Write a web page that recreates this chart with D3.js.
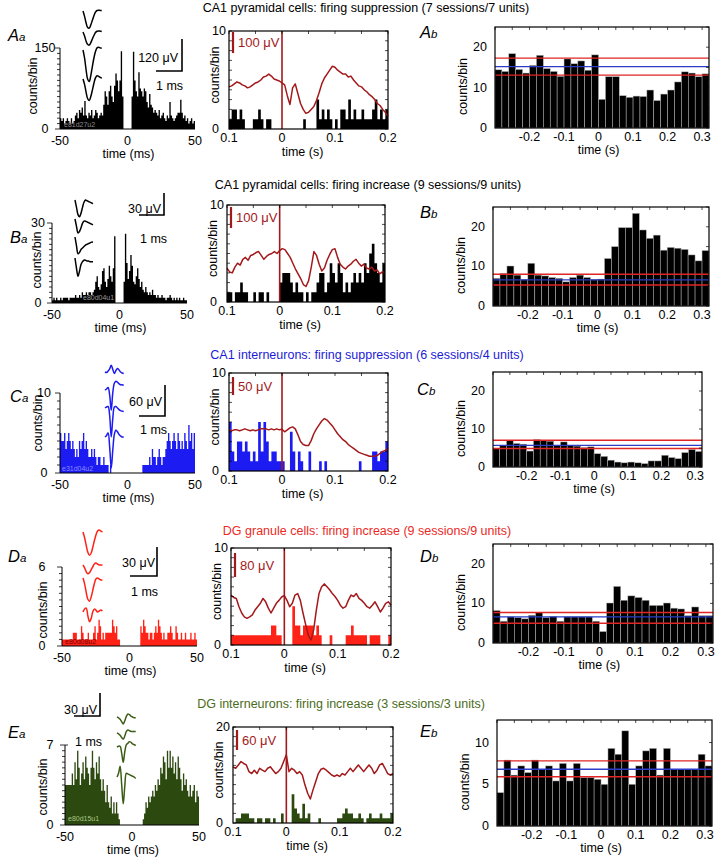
<!DOCTYPE html>
<html><head><meta charset="utf-8">
<script src="https://cdn.jsdelivr.net/npm/d3@7"></script>
<style>
body{margin:0;background:#fff}
svg{display:block}
text{font-family:"Liberation Sans",Arial,Helvetica,sans-serif}
</style>
</head><body>
<svg id="fig" width="720" height="857"></svg>
<script>
// ---------------- DATA ----------------
// Left panels: cross-correlograms, 1 ms bins from -50 to 50 ms (counts/bin)
const ccgA = [20,15,20,10,15,20,15,10,20,10, 15,25,30,20,35,30,40,25,52,25, 20,30,25,35,20,25,35,30,20,25, 30,25,45,70,60,45,70,80,60,50, 80,103,90,70,90,144,60,0,0,0, 0,0,0,60,143,90,70,60,105,75, 70,60,75,70,50,40,65,45,40,30, 35,30,25,35,20,25,30,20,15,25, 20,50,25,20,15,20,25,30,30,54, 30,20,25,15,20,10,15,20,10,15];
const ccgB = [1,2,1,2,1,1,2,1,2,2, 2,2,1,2,2,2,2,3,2,2, 3,2,4,3,3,4,3,4,4,3, 4,5,8,10,6,5,7,12,13,8, 6,9,14,10,8,13,25,0,0,0, 0,0,0,8,26,15,9,12,18,14, 8,7,10,13,9,6,8,5,4,6, 4,3,4,3,5,3,3,2,3,2, 2,3,2,2,1,2,2,3,2,1, 2,1,2,1,2,1,1,2,1,1];
const ccgC = [5,4,4,5,3,4,5,4,3,4, 3,2,3,2,4,3,4,5,3,4, 3,2,2,3,2,3,2,1,2,2, 1,1,2,1,1,1,0,1,0,0, 0,0,0,0,0,0,0,0,0,0, 0,0,0,0,0,0,0,0,0,0, 0,1,1,1,1,1,2,1,3,2, 2,1,2,3,2,1,2,2,3,4, 5,4,3,4,5,4,3,5,4,3, 4,3,5,4,3,6,4,5,3,5];
const ccgD = [.5,.5,.5,.5,.5,.5,.5,.5,1,1, 1,.5,.5,.5,1.5,1,.5,.5,.5,1, .5,.5,.5,1,1.5,.5,1,2,1.5,.5, 1,.5,1,1,1,1,1,2,1.5,1, 1.5,.5,.5,0,0,0,0,0,0,0, 0,0,0,0,0,0,0,0,1.5,1, 2,1.5,1,1,.5,1,1,.5,1,1.5, 1,2,1.5,1,.5,1,.5,.5,1,1, 1.5,1,.5,.5,1.5,1,.5,.5,1,.5, .5,1,.5,.5,.5,1,.5,.5,1,.5];
const ccgE = [3.5,3.5,3.5,3.5,3.5,4.5,3.5,5.5,4,6.5, 5,3.5,4.5,5.5,4,6,5,4.5,3.5,5, 6.5,5,4,5.5,4.5,6,4,3,4,3, 2,3.5,2,1.5,2.5,1,2,1,2,1, 0.5,0,0,0,0,0,0,0,0,0, 0,0,0,0,0,0,0,0,0.5,1, 2,1.5,2.5,2,2.5,3,2.5,3.5,3,4, 3.5,5,4.5,6,5.5,4,6.5,5,6.5,5, 6,4.5,5.5,4,6,5,4,3,4.5,3.5, 4,3,2.5,3.5,2.5,3,3.5,2,3,2.5];

// Spike waveforms (4 tetrode channels, µV, 0.06 ms samples)
const waveA = [[0,-20,-45,-62,-64,-52,-35,-18,-4,2,3,2,2],[0,-15,-35,-47,-49,-40,-26,-13,-2,3,4,3,2],[0,-30,-75,-110,-118,-96,-62,-30,-6,8,10,8,6],[0,-20,-50,-74,-81,-66,-42,-16,4,12,10,6,3]];
const waveB = [[0,-10,-20,-23,-18,-10,-3,0,-1,-2,-3,-4,-5],[0,-10,-19,-17,-12,-6,-3,-3,-4,-5,-6,-7,-8],[0,-12,-23,-21,-17,-15,-13,-11,-10,-9,-8,-7,-7],[0,-14,-25,-18,-9,-5,-3,-3,-4,-4,-5,-5,-5]];
const waveC = [[0,-1,2,6,13,5,-3,3,7,4,0,-2,-3],[0,2,5,-10,-39,-5,13,17,15,12,10,10,9],[0,2,3,-15,-56,-20,2,3,0,-3,-5,-6,-7],[0,3,8,-20,-60,-25,5,13,10,5,2,0,0]];
const waveD = [[0,-6,-14,-21,-24,-22,-16,-9,-3,1,2,1,0],[0,-3,-7,-9,-8,-5,-2,1,2,1,0,0,0],[0,-6,-15,-22,-24,-20,-13,-6,-1,0,-1,-2,-2],[0,3,4,-4,-10,-7,0,3,2,0,1,2,1]];
const waveE = [[0,-1,-3,-6,-9,-5,1,4,3,1,0,-1,-1],[0,-1,-3,-6,-8,-4,2,4,3,2,2,2,2],[0,1,1,-8,-20,-6,3,5,7,6,4,3,2],[0,5,14,-10,-35,-12,5,4,3,2,1,0,-2]];

// Middle panels: spike counts, 5 ms bins from -0.1 to 0.2 s
const midA = [1,2,2,1,2,1,0,0,0,1,1,2,1,0,1,1,0,0,0,0, 0,0,0,0,0,0,0,0,1,0,0,0,0,3,1,2,1,2,1,0, 1,0,2,2,1,3,1,2,1,1,2,1,1,1,2,3,1,2,1,2];
const midB = [1,1,0,1,1,2,1,1,0,0,1,0,1,1,0,1,0,0,0,0, 2,3,3,3,2,1,2,1,1,0,1,0,1,1,2,3,3,1,2,4, 3,2,4,3,1,2,1,2,3,2,3,2,4,3,5,6,4,3,2,4];
const midC = [5,2,1,3,3,2,3,2,1,2,1,5,2,5,3,1,2,2,1,1, 1,0,0,4,2,0,2,1,0,0,2,0,0,0,1,0,1,0,0,0, 0,0,0,0,0,0,0,0,0,1,0,0,0,0,2,2,1,2,2,3];
const midD = [1,1,1,1,1,1,1,1,1,1,1,1,1,1,1,2,2,1,1,0, 0,0,0,4,2,2,1,2,2,2,2,1,2,1,0,0,0,1,0,0, 0,0,0,1,1,2,1,1,1,1,1,0,1,1,1,1,0,0,0,1];
const midE = [0,1,1,2,2,2,1,1,0,1,1,0,1,1,0,1,0,0,2,0, 0,0,6,3,2,1,4,1,2,0,0,0,1,0,0,0,0,0,0,1, 1,2,3,2,2,1,1,2,1,0,1,2,1,1,1,2,1,1,1,2];

// Spike-triggered LFP averages, 5 ms samples from -0.1 to 0.2 s (plotted in axis units)
const lfpA = [4.3,4.4,4.6,4.8,4.7,4.5,4.4,4.2,4.3,4.5,4.7,4.8,5.0,5.3,5.4,5.6,5.4,5.1,5.0,4.9,4.7,4.5,3.4,2.5,4.2,4.6,3.6,2.6,2.0,1.6,1.7,2.0,2.3,2.9,3.7,4.6,5.2,5.6,6.0,6.4,6.3,6.0,5.8,5.6,5.6,5.3,5.4,5.0,4.7,4.4,4.3,4.0,3.8,3.5,3.3,3.0,2.6,2.4,2.0,1.7,1.3];
const lfpB = [3.5,3.1,3.0,3.6,4.0,3.8,4.4,4.6,4.3,4.8,4.9,5.1,5.2,4.8,4.4,4.7,4.9,5.0,5.2,5.0,5.3,5.5,5.4,5.0,4.6,4.0,3.4,2.9,2.4,1.8,1.6,2.2,3.6,5.2,4.8,3.9,3.2,3.5,4.3,4.9,5.4,5.5,4.6,3.9,3.6,3.4,3.7,3.9,4.2,4.4,4.0,3.7,3.9,3.5,3.4,3.6,3.2,3.3,2.9,3.1,3.0];
const lfpC = [4.2,4.1,4.2,4.2,4.1,4.2,4.3,4.2,4.1,4.2,4.1,4.2,4.3,4.3,4.3,4.2,4.3,4.2,4.3,4.2,4.25,4.0,4.2,4.4,4.5,4.3,3.7,3.0,2.7,2.6,2.6,3.1,3.8,4.3,4.7,5.1,5.35,5.2,4.9,4.6,4.2,3.8,3.5,3.2,3.0,2.7,2.5,2.3,2.1,1.9,1.8,1.7,1.6,1.5,1.5,1.5,1.6,1.8,2.0,2.1,2.3];
const lfpD = [5.15,4.9,4.8,3.95,3.3,2.9,2.75,2.9,3.1,3.6,3.95,4.3,4.8,4.45,3.8,3.3,3.8,4.3,4.6,4.95,5.1,4.6,3.95,4.3,5.15,5.3,4.6,3.3,2.1,1.0,0.5,1.55,3.6,5.3,6.0,6.3,6.0,5.7,5.3,5.0,4.6,4.1,3.8,3.95,4.6,5.15,5.0,5.3,4.8,4.6,4.3,3.95,3.8,4.1,4.45,3.95,3.4,3.8,4.3,4.45,4.1];
const lfpE = [11.7,11.4,12.1,12.8,12.4,12.1,10.7,10.3,11.0,10.3,11.4,11.0,10.7,11.4,11.7,11.0,10.3,10.7,11.4,12.8,14.2,10.7,11.4,11.0,10.3,10.7,10.0,7.9,6.2,5.0,6.9,8.6,10.3,11.2,11.4,11.0,10.5,10.0,9.7,10.0,9.7,10.3,10.0,10.7,11.4,10.7,11.4,12.1,11.4,10.7,11.4,12.1,11.4,10.3,11.0,12.1,12.4,11.4,10.3,10.0,10.3];

// Right panels: peri-event histograms, 20 ms bins from -0.3 s
const periA = [14.4,14.0,18.4,14.5,13.6,15.5,18.0,14.7,14.0,12.8,17.1,15.9,16.6,14.3,18.1,7.1,12.7,12.7,8.0,7.6,7.9,7.8,9.4,6.8,8.4,9.4,11.4,13.9,13.6,12.7,13.4];
const periB = [7.0,8.2,10.1,7.8,6.7,10.8,7.8,7.6,7.2,7.0,6.1,7.2,7.8,7.2,6.7,6.8,12.0,15.0,19.8,19.8,23.4,19.2,17.1,17.9,14.1,14.8,14.6,14.3,12.9,11.4,14.0];
const periC = [4.8,5.7,6.9,6.2,6.0,4.2,7.2,6.9,6.8,5.7,6.6,5.7,5.5,5.1,5.3,3.5,2.8,1.8,1.3,1.1,1.3,1.1,0.9,1.6,1.6,3.1,2.5,2.2,3.8,4.6,4.1];
const periD = [8.2,5.5,6.6,6.4,6.1,7.0,7.7,6.4,6.7,5.5,6.6,6.6,6.6,6.6,5.5,2.9,10.1,14.3,10.8,11.9,11.5,10.8,9.5,9.5,10.1,8.8,8.6,6.9,9.1,6.9,6.9];
const periE = [4.0,7.9,6.1,7.2,6.4,7.9,6.8,7.2,5.4,7.5,5.4,7.5,5.8,5.8,5.6,5.0,9.3,8.6,11.4,5.0,7.2,9.0,9.3,6.1,9.3,6.8,6.8,6.8,6.8,8.6,7.2];
// Confidence band: [lower, mean, upper]
const bandA = [13.1,15.2,17.3];
const bandB = [5.3,6.6,8.0];
const bandC = [4.85,5.7,7.05];
const bandD = [5.0,6.6,7.7];
const bandE = [5.9,6.8,7.8];

// Tick labels / scale values
const titles = ["CA1 pyramidal cells: firing suppression (7 sessions/7 units)","CA1 pyramidal cells: firing increase (9 sessions/9 units)","CA1 interneurons: firing suppression (6 sessions/4 units)","DG granule cells: firing increase (9 sessions/9 units)","DG interneurons: firing increase (3 sessions/3 units)"];
const unitIds = ["e81d27u2","e80d04u1","e31d04u2","e80d08u2","e80d15u1"];
const leftYMax = [150,30,10,6,7];
const leftMinor = [10,2,1,0.5,0.5];
const leftXTicks = [-50,0,50];
const midYMax = [10,10,10,10,20];
const midXTicks = [-0.1,0,0.1,0.2];
const midXTickText = ["0.1","0","0.1","0.2"];
const rightYMax = [25,25,25,25,12.7];
const rightYTicks = [[0,10,20],[0,10,20],[0,10,20],[0,10,20],[0,5,10]];
const rightXTicks = [-0.2,-0.1,0,0.1,0.2,0.3];
const spikeUV = [120,30,60,30,30];
const lfpUV = [100,100,50,80,60];

// ---------------- LAYOUT ----------------
const C = {
  black:'#000', blue:'#1b1bf2', red:'#ff2216', green:'#2c4a10', lfp:'#a3191b',
  tBlue:'#1c1cd6', tRed:'#ec2a1f', tGreen:'#4a6c1a', band:'#e12525', bandBlue:'#2a3cc8'
};
const rows = [
 {title:0, tColor:C.black, tx:366, ty:12, fill:C.black, wcol:C.black, idCol:'#8c8c8c', idPos:[64,127], letter:'A',
  labA:[8,41], labB:[420,38],
  L:{x0:60,x1:195,y0:129,yT:48,tickX:45,ylab:[33,86],data:ccgA},
  S:{vx:182,vy0:39,vy1:71,hx0:156,uvX:178,uvY:62,msX:156,msY:90},
  W:{x:83,base:[11,32,50,79],data:waveA},
  M:{x0:229,x1:388,y0:129,yT:31,bars:midA,lfp:lfpA,sb:[1,22]},
  R:{x0:495,x1:709,y0:128,yT:27,data:periA,band:bandA}},
 {title:1, tColor:C.black, tx:368, ty:189, fill:C.black, wcol:C.black, idCol:'#9a9a9a', idPos:[83,300], letter:'B',
  labA:[10,243], labB:[420,218],
  L:{x0:52,x1:187,y0:303,yT:223,tickX:38,ylab:[37,260],data:ccgB},
  S:{vx:164,vy0:193,vy1:215,hx0:139,uvX:161,uvY:213,msX:140,msY:243},
  W:{x:75,base:[200,219,237,258],data:waveB},
  M:{x0:227,x1:385,y0:302,yT:205,bars:midB,lfp:lfpB,sb:[2,23]},
  R:{x0:493,x1:709,y0:306,yT:207,data:periB,band:bandB}},
 {title:2, tColor:C.tBlue, tx:367, ty:359, fill:C.blue, wcol:C.blue, idCol:'#8c8cff', idPos:[62,471], letter:'C',
  labA:[10,402], labB:[417,395],
  L:{x0:60,x1:195,y0:473,yT:393,tickX:44,ylab:[38,423],data:ccgC},
  S:{vx:165,vy0:385,vy1:416,hx0:139,uvX:162,uvY:406,msX:140,msY:434},
  W:{x:105,base:[372,390,408,437],data:waveC},
  M:{x0:229,x1:388,y0:471,yT:373,bars:midC,lfp:lfpC,sb:[4,22]},
  R:{x0:493,x1:702,y0:467,yT:372,data:periC,band:bandC}},
 {title:3, tColor:C.tRed, tx:367, ty:535, fill:C.red, wcol:C.red, idCol:'#7a0000', idPos:[65,644], letter:'D',
  labA:[8,562], labB:[420,562],
  L:{x0:62,x1:197,y0:646,yT:567,tickX:42,ylab:[43,610],data:ccgD},
  S:{vx:157,vy0:547,vy1:576,hx0:130,uvX:155,uvY:567,msX:131,msY:596},
  W:{x:83,base:[532,565,578,612],data:waveD},
  M:{x0:231,x1:391,y0:645,yT:548,bars:midD,lfp:lfpD,sb:[5,29]},
  R:{x0:493,x1:713,y0:643,yT:544,data:periD,band:bandD}},
 {title:4, tColor:C.tGreen, tx:341, ty:708, fill:C.green, wcol:'#3b5c14', idCol:'#a9c486', idPos:[68,821], letter:'E',
  labA:[8,738], labB:[420,737],
  L:{x0:65,x1:199,y0:825,yT:745,tickX:50,ylab:[43,787],data:ccgE},
  S:{vx:100,vy0:693,vy1:716,hx0:74,uvX:97,uvY:714,msX:75,msY:746},
  W:{x:117,base:[717,733,747,777],data:waveE},
  M:{x0:233,x1:393,y0:823,yT:727,bars:midE,lfp:lfpE,sb:[3,23]},
  R:{x0:497,x1:712,y0:826,yT:720,data:periE,band:bandE}}
];

// ---------------- DRAW ----------------
const svg = d3.select('#fig');
const defs = svg.append('defs');

function stepArea(values, t0, dt, sx, sy){
  const pts = values.map((v,i)=>[t0+i*dt, v]);
  pts.push([t0+values.length*dt, values[values.length-1]]);
  return d3.area().x(d=>sx(d[0])).y0(sy(0)).y1(d=>sy(d[1])).curve(d3.curveStepAfter)(pts);
}
function txt(g, x, y, s, opts={}){
  const t = g.append('text').attr('x',x).attr('y',y).text(s)
    .attr('font-size', opts.size||12.5).attr('fill', opts.fill||'#000')
    .attr('text-anchor', opts.anchor||'start');
  if (opts.rotate) t.attr('transform',`rotate(-90,${x},${y})`);
  if (opts.baseline) t.attr('dominant-baseline', opts.baseline);
  return t;
}
function panelLabel(x, y, big, small){
  const t = svg.append('text').attr('x',x).attr('y',y).attr('font-style','italic');
  t.append('tspan').attr('font-size',16.5).text(big);
  t.append('tspan').attr('font-size',11.5).text(small);
}

rows.forEach((r, ri) => {
  const g = svg.append('g');
  // title
  txt(g, r.tx, r.ty, titles[r.title], {size:12.5, fill:r.tColor, anchor:'middle'});
  panelLabel(r.labA[0], r.labA[1], r.letter, 'a');
  panelLabel(r.labB[0], r.labB[1], r.letter, 'b');

  // ---------- Left: cross-correlogram ----------
  const L = r.L;
  const lx = d3.scaleLinear().domain([-50,50]).range([L.x0, L.x1]);
  const ly = d3.scaleLinear().domain([0, leftYMax[ri]]).range([L.y0, L.yT]);
  g.append('path').attr('d', stepArea(L.data, -50, 1, lx, ly)).attr('fill', r.fill);
  g.append('line').attr('x1',L.x0).attr('x2',L.x1).attr('y1',L.y0).attr('y2',L.y0).attr('stroke','#000').attr('stroke-width',1);
  g.append('line').attr('x1',L.x0).attr('x2',L.x0).attr('y1',L.y0).attr('y2',L.yT).attr('stroke','#000').attr('stroke-width',1);
  d3.range(0, leftYMax[ri] + 1e-9, leftMinor[ri]).forEach(v => {
    const major = (v === 0 || Math.abs(v - leftYMax[ri]) < 1e-9);
    g.append('line').attr('x1',L.x0 - (major?5:3)).attr('x2',L.x0 + (major && ri===4 && v>0 ? 3 : 0))
      .attr('y1',ly(v)).attr('y2',ly(v)).attr('stroke','#000').attr('stroke-width',0.8);
  });
  [0, leftYMax[ri]].forEach(v => txt(g, L.tickX, ly(v), String(v), {anchor:'middle', baseline:'central'}));
  leftXTicks.forEach(v => txt(g, lx(v), L.y0 + 16, String(v), {anchor:'middle'}));
  txt(g, (L.x0+L.x1)/2 + 1, L.y0 + 29, 'time (ms)', {anchor:'middle'});
  txt(g, L.ylab[0], L.ylab[1], 'counts/bin', {anchor:'middle', rotate:true, baseline:'central'});
  txt(g, r.idPos[0], r.idPos[1], unitIds[ri], {size:7, fill:r.idCol});

  // spike waveforms + scale bar
  const S = r.S;
  const msPx = S.vx - S.hx0;
  const wt = d3.scaleLinear().domain([0,1]).range([r.W.x, r.W.x + msPx]);
  const wv = d3.scaleLinear().domain([0, spikeUV[ri]]).range([0, S.vy1 - S.vy0]);
  r.W.data.forEach((ch, ci) => {
    const line = d3.line().x((d,i)=>wt(i*0.06)).y(d=>r.W.base[ci] - wv(d)).curve(d3.curveCatmullRom);
    g.append('path').attr('d', line(ch)).attr('fill','none').attr('stroke', r.wcol).attr('stroke-width',1.5);
  });
  g.append('path').attr('d', `M${S.hx0},${S.vy1}H${S.vx}V${S.vy0}`).attr('fill','none').attr('stroke','#000').attr('stroke-width',1.6);
  txt(g, S.uvX, S.uvY, `${spikeUV[ri]} μV`, {anchor:'end'});
  txt(g, S.msX, S.msY, '1 ms');

  // ---------- Middle: spike histogram + LFP ----------
  const M = r.M;
  const mx = d3.scaleLinear().domain([-0.1,0.2]).range([M.x0, M.x1]);
  const my = d3.scaleLinear().domain([0, midYMax[ri]]).range([M.y0, M.yT]);
  g.append('path').attr('d', stepArea(M.bars, -0.1, 0.005, mx, my)).attr('fill', r.fill);
  const tl = d3.line().x((d,i)=>mx(-0.1 + i*0.005)).y(d=>my(d));
  g.append('path').attr('d', tl(M.lfp)).attr('fill','none').attr('stroke', C.lfp).attr('stroke-width',1.5).attr('stroke-linejoin','round');
  g.append('line').attr('x1',mx(0)).attr('x2',mx(0)).attr('y1',M.yT).attr('y2',M.y0).attr('stroke',C.lfp).attr('stroke-width',1.6);
  g.append('rect').attr('x',M.x0).attr('y',M.yT).attr('width',M.x1-M.x0).attr('height',M.y0-M.yT)
    .attr('fill','none').attr('stroke','#000').attr('stroke-width',1.2);
  const mstep = midYMax[ri] > 10 ? 2 : 1;
  d3.range(0, midYMax[ri] + 1e-9, mstep).forEach(v => {
    g.append('line').attr('x1',M.x1-3).attr('x2',M.x1).attr('y1',my(v)).attr('y2',my(v)).attr('stroke','#000').attr('stroke-width',0.7);
    g.append('line').attr('x1',M.x0).attr('x2',M.x0+3).attr('y1',my(v)).attr('y2',my(v)).attr('stroke','#000').attr('stroke-width',0.7);
  });
  d3.range(-0.1, 0.2001, 0.05).forEach(v => {
    g.append('line').attr('x1',mx(v)).attr('x2',mx(v)).attr('y1',M.yT).attr('y2',M.yT+3).attr('stroke','#000').attr('stroke-width',0.7);
  });
  g.append('line').attr('x1',M.x0+4).attr('x2',M.x0+4).attr('y1',M.yT+M.sb[0]).attr('y2',M.yT+M.sb[1]).attr('stroke',C.lfp).attr('stroke-width',2.2);
  txt(g, M.x0+9, M.yT + (M.sb[0]+M.sb[1])/2 + 4.5, `${lfpUV[ri]} μV`, {fill:C.lfp, size:13});
  [0, midYMax[ri]].forEach(v => txt(g, M.x0 - 17, my(v), String(v), {baseline:'central'}));
  midXTicks.forEach((v,i) => txt(g, mx(v), M.y0 + 13, midXTickText[i], {anchor:'middle'}));
  txt(g, (M.x0+M.x1)/2 - 6, M.y0 + 27, 'time (s)', {anchor:'middle'});
  txt(g, M.x0 - 14, (M.yT+M.y0)/2 - 5, 'counts/bin', {anchor:'middle', rotate:true, baseline:'central'});

  // ---------- Right: peri-event histogram ----------
  const R = r.R;
  const rx = d3.scaleLinear().domain([-0.3,0.32]).range([R.x0, R.x1]);
  const ry = d3.scaleLinear().domain([0, rightYMax[ri]]).range([R.y0, R.yT]);
  const cid = 'clipR' + ri;
  defs.append('clipPath').attr('id', cid).append('rect').attr('x',R.x0).attr('y',R.yT).attr('width',R.x1-R.x0).attr('height',R.y0-R.yT);
  const rg = g.append('g').attr('clip-path', `url(#${cid})`);
  rg.selectAll('rect.b').data(R.data).join('rect').attr('class','b')
    .attr('x',(d,i)=>rx(-0.3 + i*0.02)).attr('width', rx(0.02)-rx(0))
    .attr('y', d=>ry(d)).attr('height', d=>R.y0 - ry(d))
    .attr('fill','#000').attr('stroke','#b8b8b8').attr('stroke-width',0.5);
  [[R.band[2],C.band],[R.band[1],C.bandBlue],[R.band[0],C.band]].forEach(([v,c]) => {
    rg.append('line').attr('x1',R.x0).attr('x2',R.x1).attr('y1',ry(v)).attr('y2',ry(v)).attr('stroke',c).attr('stroke-width',1.4);
  });
  g.append('rect').attr('x',R.x0).attr('y',R.yT).attr('width',R.x1-R.x0).attr('height',R.y0-R.yT)
    .attr('fill','none').attr('stroke','#000').attr('stroke-width',1.2);
  d3.range(-0.3, 0.3201, 0.05).forEach(v => {
    g.append('line').attr('x1',rx(v)).attr('x2',rx(v)).attr('y1',R.yT).attr('y2',R.yT+3).attr('stroke','#000').attr('stroke-width',0.7);
  });
  d3.range(0, rightYMax[ri] + 1e-9, 5).forEach(v => {
    g.append('line').attr('x1',R.x1-3).attr('x2',R.x1).attr('y1',ry(v)).attr('y2',ry(v)).attr('stroke','#000').attr('stroke-width',0.7);
  });
  rightYTicks[ri].forEach(v => txt(g, R.x0 - 8, ry(v), String(v), {anchor:'end', baseline:'central'}));
  rightXTicks.forEach(v => txt(g, rx(v), R.y0 + 13, String(+v.toFixed(1)), {anchor:'middle'}));
  txt(g, rx(0), R.y0 + 26, 'time (s)', {anchor:'middle'});
  txt(g, R.x0 - 32, (R.yT+R.y0)/2 + 9, 'counts/bin', {anchor:'middle', rotate:true, baseline:'central'});
});
</script>
</body></html>
